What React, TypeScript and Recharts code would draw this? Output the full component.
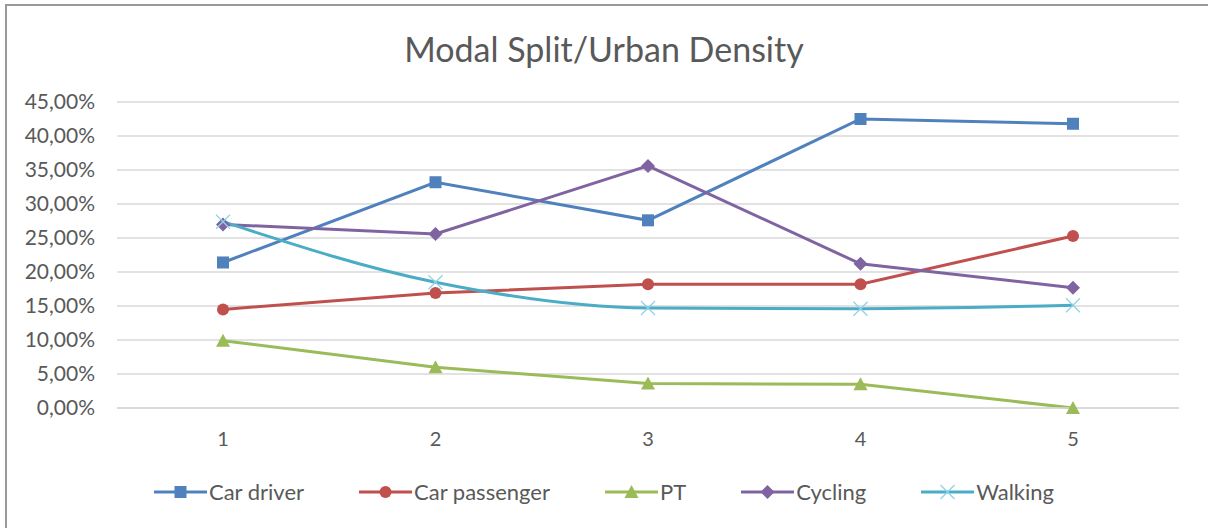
import React from "react";
import { LineChart, Line, XAxis, YAxis, CartesianGrid } from "recharts";

const categories = ["1", "2", "3", "4", "5"];
const carDriver = [21.4, 33.2, 27.6, 42.5, 41.8];
const carPassenger = [14.5, 16.9, 18.2, 18.2, 25.3];
const pt = [9.9, 6.0, 3.6, 3.5, 0.0];
const cycling = [27.0, 25.6, 35.6, 21.2, 17.7];
const walking = [27.4, 18.5, 14.7, 14.6, 15.1];
const yTicks = [0, 5, 10, 15, 20, 25, 30, 35, 40, 45];

const FONT = "Lato, 'Open Sans', sans-serif";
const TEXT = "#595959";

const series = [
  { key: "carDriver", name: "Car driver", color: "#4F81BD", shape: "square", curve: "linear" },
  { key: "carPassenger", name: "Car passenger", color: "#C0504D", shape: "circle", curve: "linear" },
  { key: "pt", name: "PT", color: "#9BBB59", shape: "triangle", curve: "linear" },
  { key: "cycling", name: "Cycling", color: "#8064A2", shape: "diamond", curve: "linear" },
  { key: "walking", name: "Walking", color: "#4BACC6", shape: "x", curve: "monotone" },
];

const data = categories.map((c, i) => ({
  name: c,
  carDriver: carDriver[i],
  carPassenger: carPassenger[i],
  pt: pt[i],
  cycling: cycling[i],
  walking: walking[i],
}));

const fmt = (v: number) => v.toFixed(2).replace(".", ",") + "%";

const markerShape = (shape: string, color: string, cx: number, cy: number) => {
  switch (shape) {
    case "square":
      return <rect x={cx - 6} y={cy - 6} width={12} height={12} fill={color} />;
    case "circle":
      return <circle cx={cx} cy={cy} r={6} fill={color} />;
    case "triangle":
      return (
        <polygon
          points={`${cx},${cy - 7} ${cx + 7},${cy + 6} ${cx - 7},${cy + 6}`}
          fill={color}
        />
      );
    case "diamond":
      return (
        <polygon
          points={`${cx},${cy - 7} ${cx + 7},${cy} ${cx},${cy + 7} ${cx - 7},${cy}`}
          fill={color}
        />
      );
    default:
      return (
        <g stroke="#8CD3E6" strokeWidth={1.3}>
          <line x1={cx - 7} y1={cy - 7} x2={cx + 7} y2={cy + 7} />
          <line x1={cx - 7} y1={cy + 7} x2={cx + 7} y2={cy - 7} />
        </g>
      );
  }
};

const makeDot = (shape: string, color: string) => (props: any) => {
  const { cx, cy, index } = props;
  if (cx == null || cy == null) return <g key={index} />;
  return <g key={index}>{markerShape(shape, color, cx, cy)}</g>;
};

const LegendBox = () => (
  <div
    style={{
      display: "flex",
      justifyContent: "center",
      gap: 55,
      fontFamily: FONT,
      fontSize: 22,
      color: TEXT,
    }}
  >
    {series.map((s) => (
      <div key={s.key} style={{ display: "flex", alignItems: "center" }}>
        <svg width={53} height={16} style={{ marginRight: 2 }}>
          <line x1={0} y1={8} x2={53} y2={8} stroke={s.color} strokeWidth={3} />
          {markerShape(s.shape, s.color, 26.5, 8)}
        </svg>
        <span>{s.name}</span>
      </div>
    ))}
  </div>
);

const App = () => {
  return (
    <div
      style={{
        position: "fixed",
        left: 0,
        top: 0,
        width: 1208,
        height: 528,
        background: "#fff",
        overflow: "hidden",
      }}
    >
      <div
        style={{
          position: "absolute",
          left: 5,
          top: 4,
          width: 1210,
          height: 530,
          borderLeft: "2px solid #999",
          borderTop: "2px solid #999",
        }}
      />
      <div
        style={{
          position: "absolute",
          left: 0,
          top: 28,
          width: 1208,
          textAlign: "center",
          fontFamily: FONT,
          fontSize: 34,
          color: TEXT,
        }}
      >
        Modal Split/Urban Density
      </div>
      <div style={{ position: "absolute", left: 0, top: 0 }}>
        <LineChart
          width={1208}
          height={528}
          data={data}
          margin={{ top: 102, right: 29, bottom: 80, left: 17 }}
        >
          <CartesianGrid vertical={false} stroke="#D9D9D9" strokeWidth={1.5} />
          <XAxis
            dataKey="name"
            axisLine={{ stroke: "#D9D9D9", strokeWidth: 1.5 }}
            tickLine={false}
            tickSize={0}
            tickMargin={24}
            padding={{ left: 106, right: 106 }}
            tick={{ fill: TEXT, fontSize: 20, fontFamily: FONT }}
            height={40}
          />
          <YAxis
            domain={[0, 45]}
            ticks={yTicks}
            interval={0}
            tickFormatter={fmt}
            axisLine={false}
            tickLine={false}
            tickSize={0}
            tickMargin={22}
            width={100}
            tick={{ fill: TEXT, fontSize: 21, fontFamily: FONT }}
          />
          {series.map((s) => (
            <Line
              key={s.key}
              type={s.curve as any}
              dataKey={s.key}
              name={s.name}
              stroke={s.color}
              strokeWidth={3}
              dot={makeDot(s.shape, s.color)}
              activeDot={false}
              isAnimationActive={false}
            />
          ))}
        </LineChart>
      </div>
      <div style={{ position: "absolute", left: 0, top: 478, width: 1208 }}>
        <LegendBox />
      </div>
    </div>
  );
};

export default App;
